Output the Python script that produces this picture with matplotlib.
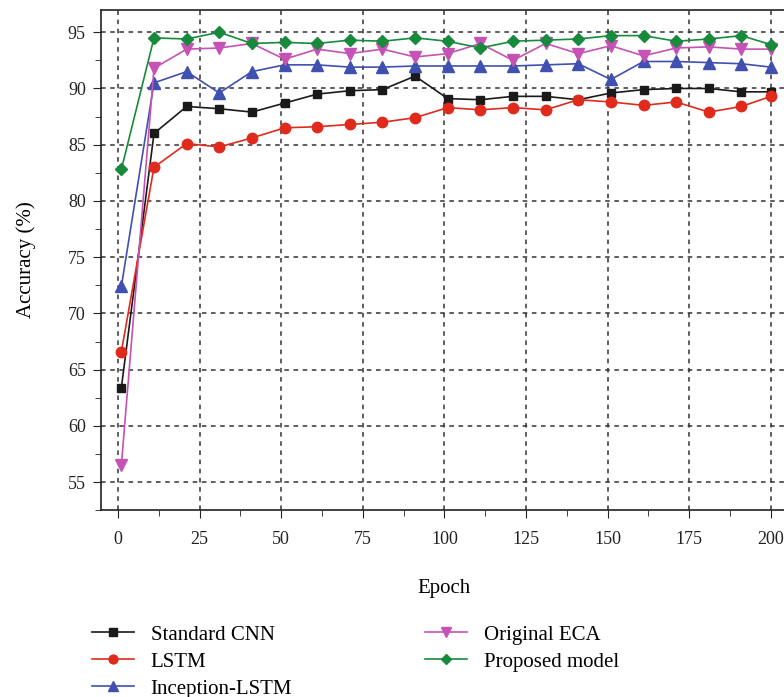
import numpy as np
import matplotlib
matplotlib.use("Agg")
import matplotlib.pyplot as plt
from matplotlib.ticker import MultipleLocator

plt.rcParams['font.family'] = ['Liberation Serif', 'DejaVu Serif']

epochs = [1, 11, 21, 31, 41, 51, 61, 71, 81, 91, 101, 111, 121, 131, 141, 151, 161, 171, 181, 191, 200]

standard_cnn = [63.4, 86.0, 88.4, 88.2, 87.9, 88.7, 89.5, 89.8, 89.9, 91.1, 89.1, 89.0, 89.3, 89.3,
                89.0, 89.6, 89.9, 90.0, 90.0, 89.7, 89.7]
lstm = [66.6, 83.0, 85.1, 84.8, 85.6, 86.5, 86.6, 86.8, 87.0, 87.4, 88.3, 88.1, 88.3, 88.1,
        89.0, 88.8, 88.5, 88.8, 87.9, 88.4, 89.3]
inception_lstm = [72.4, 90.5, 91.5, 89.6, 91.5, 92.1, 92.1, 91.9, 91.9, 92.0, 92.0, 92.0, 92.0, 92.1,
                  92.2, 90.8, 92.4, 92.4, 92.3, 92.2, 91.9]
original_eca = [56.5, 91.8, 93.5, 93.6, 94.0, 92.6, 93.5, 93.1, 93.5, 92.8, 93.1, 94.0, 92.5, 94.0,
                93.1, 93.8, 92.9, 93.6, 93.7, 93.5, 93.5]
proposed = [82.8, 94.5, 94.4, 95.0, 94.0, 94.1, 94.0, 94.3, 94.2, 94.5, 94.2, 93.6, 94.2, 94.3,
            94.4, 94.7, 94.7, 94.2, 94.4, 94.7, 93.9]

series = [
    ("Standard CNN", standard_cnn, "#1a1a1a", "s", 6),
    ("LSTM", lstm, "#e02a1c", "o", 7.5),
    ("Inception-LSTM", inception_lstm, "#4050b0", "^", 8),
    ("Original ECA", original_eca, "#c652b6", "v", 8),
    ("Proposed model", proposed, "#178a3c", "D", 6.5),
]

fig = plt.figure(figsize=(7.84, 6.97), dpi=100)
ax = fig.add_axes([0.129, 0.268, 0.875, 0.718])

for name, vals, col, mk, ms in series:
    ax.plot(epochs, vals, color=col, marker=mk, markersize=ms, lw=1.2, label=name)

ax.set_xlim(-5.2, 205)
ax.set_ylim(52.5, 97)
ax.xaxis.set_major_locator(MultipleLocator(25))
ax.xaxis.set_minor_locator(MultipleLocator(12.5))
ax.set_yticks([55, 60, 65, 70, 75, 80, 85, 90, 95])
ax.yaxis.set_minor_locator(MultipleLocator(2.5))
ax.tick_params(which='both', direction='out', colors='#222222', labelsize=13)
ax.tick_params(which='major', length=6)
ax.tick_params(which='minor', length=4)
ax.tick_params(axis='x', which='major', pad=9)
ax.tick_params(axis='y', which='major', pad=5)
ax.grid(True, which='major', linestyle=(0, (3, 3)), color='#333333', lw=1.1)
for s in ['left', 'bottom', 'top']:
    ax.spines[s].set_linewidth(1.2)
    ax.spines[s].set_color('#222222')
ax.spines['right'].set_visible(False)

ax.set_xlabel("Epoch", fontsize=15, labelpad=22)
ax.set_ylabel("Accuracy (%)", fontsize=15, labelpad=23)

fig.legend(loc='upper left', bbox_to_anchor=(0.107, 0.115), ncol=2, frameon=False,
           fontsize=15, columnspacing=6.4, handlelength=2.0, labelspacing=0.35,
           handletextpad=0.8, borderaxespad=0, markerscale=0.85)

fig.savefig("out.png", dpi=100)
